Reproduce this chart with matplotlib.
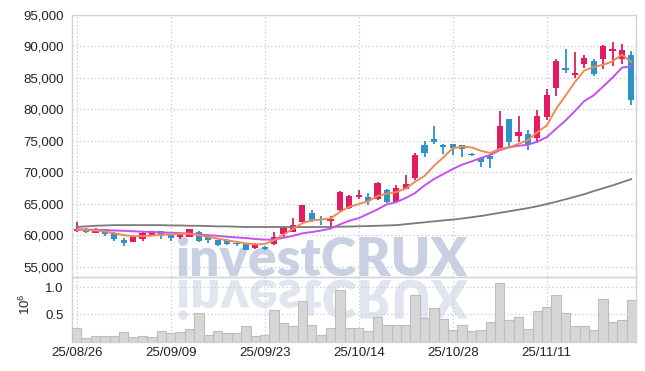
import matplotlib
matplotlib.use('Agg')
import matplotlib.pyplot as plt
import numpy as np
from matplotlib.textpath import TextPath
from matplotlib.patches import PathPatch
from matplotlib.font_manager import FontProperties
from matplotlib.transforms import Affine2D, IdentityTransform

# ---------------- data ----------------
dates = ['25/08/26', '25/08/27', '25/08/28', '25/08/29', '25/09/01', '25/09/02', '25/09/03', '25/09/04',
         '25/09/05', '25/09/08', '25/09/09', '25/09/10', '25/09/11', '25/09/12', '25/09/15', '25/09/16',
         '25/09/17', '25/09/18', '25/09/19', '25/09/22', '25/09/23', '25/09/24', '25/09/25', '25/09/26',
         '25/09/29', '25/09/30', '25/10/01', '25/10/02', '25/10/10', '25/10/13', '25/10/14', '25/10/15',
         '25/10/16', '25/10/17', '25/10/20', '25/10/21', '25/10/22', '25/10/23', '25/10/24', '25/10/27',
         '25/10/28', '25/10/29', '25/10/30', '25/10/31', '25/11/03', '25/11/04', '25/11/05', '25/11/06',
         '25/11/07', '25/11/10', '25/11/11', '25/11/12', '25/11/13', '25/11/14', '25/11/17', '25/11/18',
         '25/11/19', '25/11/20', '25/11/21', '25/11/24']

opens = [60590, 61000, 60430, 60950, 60430, 59260, 59000, 59320, 60050, 60640,
         60160, 59790, 59740, 60530, 59740, 59200, 59310, 58780, 58600, 57930,
         58200, 58570, 60160, 60530, 62120, 63500, 62600, 62230, 63980, 64300,
         66050, 66050, 65730, 67210, 65200, 67370, 69080, 74330, 75290, 74330,
         74490, 74270, 72900, 72260, 72580, 73610, 78420, 75720, 76080, 75430,
         78750, 83350, 86590, 85360, 87110, 87590, 87910, 89180, 87910, 88660]
highs = [62020, 61100, 61220, 61000, 60500, 59630, 59800, 60500, 60700, 60700,
         60200, 60200, 61000, 60600, 59800, 59250, 59350, 58850, 58650, 58750,
         58300, 60530, 61490, 62760, 64850, 63980, 62980, 62980, 67050, 66400,
         67210, 66690, 68490, 67300, 67960, 69600, 73060, 74920, 77320, 74400,
         74550, 74350, 73100, 72350, 72650, 79700, 78500, 78880, 76760, 79840,
         83130, 88020, 89610, 89080, 88660, 87910, 90200, 90730, 90410, 89180]
lows = [60450, 60400, 60400, 59890, 59100, 58300, 58950, 59100, 60000, 59360,
        59100, 59360, 59700, 58890, 58830, 58300, 58500, 58300, 57650, 57850,
        57700, 58400, 59630, 60450, 62050, 62150, 61700, 61220, 63900, 64200,
        65730, 64820, 65650, 65100, 65100, 67300, 68800, 72470, 74490, 72900,
        72740, 72360, 72600, 70780, 70620, 73450, 73960, 74760, 73550, 74650,
        78330, 82080, 85790, 84950, 86540, 85260, 86320, 86860, 87220, 80700]
closes = [61000, 60480, 60690, 60270, 59420, 58780, 59740, 60430, 60640, 59890,
          59520, 60160, 60960, 59100, 59200, 58460, 58620, 58570, 57700, 58680,
          57880, 59790, 61220, 61590, 64770, 62230, 62340, 62500, 66890, 66260,
          66420, 65360, 68280, 65200, 67480, 68120, 72740, 73060, 74810, 74060,
          73900, 73740, 72740, 71670, 72100, 77320, 74810, 76460, 74490, 78880,
          82180, 87650, 86270, 85790, 88180, 85630, 90090, 89610, 89340, 81540]

# volume in units of 10^6 shares
volume = [0.26, 0.06, 0.10, 0.10, 0.11, 0.17, 0.08, 0.11, 0.08, 0.19,
          0.16, 0.17, 0.24, 0.52, 0.13, 0.20, 0.16, 0.16, 0.28, 0.10,
          0.13, 0.58, 0.35, 0.28, 0.75, 0.30, 0.13, 0.26, 0.95, 0.26,
          0.26, 0.20, 0.46, 0.30, 0.31, 0.30, 0.86, 0.44, 0.62, 0.42,
          0.22, 0.31, 0.19, 0.22, 0.37, 1.07, 0.39, 0.46, 0.24, 0.57,
          0.64, 0.86, 0.53, 0.28, 0.28, 0.22, 0.78, 0.37, 0.39, 0.77]

ma_short = [60850, 60800, 60750, 60600, 60300, 60000, 59850, 59850, 59950, 60050,
            60150, 60200, 60250, 60000, 59750, 59450, 59200, 58950, 58700, 58550,
            58600, 59200, 60100, 61000, 61900, 62350, 62500, 62650, 63700, 64500,
            64950, 65400, 66200, 66600, 66850, 67400, 68500, 69400, 71000, 72350,
            73800, 74050, 73950, 73400, 73050, 73700, 73950, 74500, 75100, 76350,
            77400, 80050, 82150, 84300, 86150, 86700, 87050, 87600, 88650, 87500]
ma_mid = [60960, 60900, 60850, 60800, 60750, 60700, 60620, 60560, 60500, 60450,
          60400, 60330, 60250, 60100, 60000, 59900, 59750, 59650, 59550, 59400,
          59300, 59300, 59600, 59900, 60300, 60500, 60750, 61050, 61700, 62300,
          62700, 63400, 64100, 64900, 65250, 65900, 66700, 67900, 68900, 69700,
          70500, 71200, 71700, 72250, 72750, 73500, 73950, 74200, 74350, 74850,
          75550, 76900, 78200, 79700, 81300, 82200, 83600, 85000, 86600, 86800]
ma_long = [61300, 61400, 61500, 61550, 61600, 61600, 61600, 61600, 61600, 61600,
           61550, 61550, 61500, 61500, 61450, 61400, 61400, 61350, 61300, 61300,
           61300, 61300, 61300, 61300, 61300, 61300, 61300, 61320, 61350, 61380,
           61420, 61460, 61500, 61550, 61600, 61750, 61900, 62050, 62200, 62350,
           62480, 62650, 62850, 63050, 63300, 63550, 63800, 64050, 64300, 64600,
           64950, 65300, 65700, 66100, 66500, 67000, 67450, 67900, 68400, 68900]

price_ticks = [55000, 60000, 65000, 70000, 75000, 80000, 85000, 90000, 95000]
vol_ticks = [0.5, 1.0]
label_every = 10

# ---------------- style ----------------
UP = '#E31B63'
DOWN = '#2F93C7'
C_SHORT = '#F08A50'
C_MID = '#C651EE'
C_LONG = '#7A7A7A'
GRID = '#C5C9D6'
SPINE = '#D3D3DB'
WM = '#C9D0E3'
FONT = ['Liberation Sans', 'DejaVu Sans']

plt.rcParams['font.family'] = FONT
plt.rcParams['mathtext.fontset'] = 'custom'
plt.rcParams['mathtext.rm'] = 'Liberation Sans'
plt.rcParams['mathtext.it'] = 'Liberation Sans'

W, H = 645, 371
fig = plt.figure(figsize=(W / 100, H / 100), dpi=100, facecolor='white')

L, R = 72, 636
T_p, B_p = 14.7, 277.3
B_v = 341.7
axp = fig.add_axes([L / W, 1 - B_p / H, (R - L) / W, (B_p - T_p) / H])
axv = fig.add_axes([L / W, 1 - B_v / H, (R - L) / W, (B_v - B_p) / H], sharex=axp)
for ax in (axp, axv):
    ax.set_facecolor('none')
    for s in ax.spines.values():
        s.set_color(SPINE)
        s.set_linewidth(1.0)
    ax.tick_params(length=0, labelsize=9.5, colors='#222222')
    ax.grid(True, color=GRID, linestyle=(0, (1, 2)), linewidth=0.9)
    ax.set_axisbelow(True)

x = np.arange(len(dates))
o = np.array(opens); c = np.array(closes); h = np.array(highs); l = np.array(lows)
up = c >= o
cols = np.where(up, UP, DOWN)

# candles
axp.vlines(x, l, h, colors=cols, linewidth=1.3, zorder=3)
axp.bar(x, np.abs(c - o), bottom=np.minimum(o, c), width=0.66, color=cols, linewidth=0, zorder=4)

# moving averages
axp.plot(x, ma_long, color=C_LONG, linewidth=1.3, zorder=5)
axp.plot(x, ma_mid, color=C_MID, linewidth=1.4, zorder=5)
axp.plot(x, ma_short, color=C_SHORT, linewidth=1.4, zorder=6)

axp.set_ylim(53320, 95000)
axp.set_yticks(price_ticks)
axp.set_yticklabels([f'{v:,}' for v in price_ticks])
axp.tick_params(axis='y', pad=6)
axp.tick_params(axis='x', labelbottom=False)

# volume
axv.bar(x, volume, width=1.0, color='#D6D6D6', edgecolor='#BDBDBD', linewidth=0.8, zorder=3)
axv.set_ylim(0, 1.18)
axv.set_yticks(vol_ticks)
axv.set_yticklabels([f'{v:.1f}' for v in vol_ticks])
axv.tick_params(axis='y', pad=6)
axv.set_xlim(-0.5, len(dates) - 0.5)
tick_pos = x[::label_every]
axv.set_xticks(tick_pos)
axv.set_xticklabels([dates[i] for i in tick_pos])
axv.tick_params(axis='x', pad=4)
axv.set_ylabel(r'$10^{6}$', fontsize=9.5, color='#222222')
axv.yaxis.set_label_coords(-0.069, 0.58)

# watermark (text + mirrored reflection)
wm_text = 'investCRUX'
fp = FontProperties(family=['Lato', 'DejaVu Sans'], weight='heavy')
unit = TextPath((0, 0), wm_text, size=1, prop=fp).get_extents()
target_w = 290.0
size_px = target_w / unit.width
x0 = 176.0
base_y = H - 276.0  # pixels from bottom
fig.text(x0 / W, base_y / H, wm_text, fontproperties=fp, fontsize=size_px * 72 / 100,
         color=WM, ha='left', va='baseline', zorder=-1)
tp = TextPath((0, 0), wm_text, size=size_px, prop=fp)
refl = tp.transformed(Affine2D().scale(1, -1).translate(x0, base_y - 4))
patch = PathPatch(refl, facecolor=WM, edgecolor='none', alpha=0.55,
                  transform=IdentityTransform(), zorder=-1)
fig.add_artist(patch)

fig.savefig('out.png', dpi=100, facecolor='white')
